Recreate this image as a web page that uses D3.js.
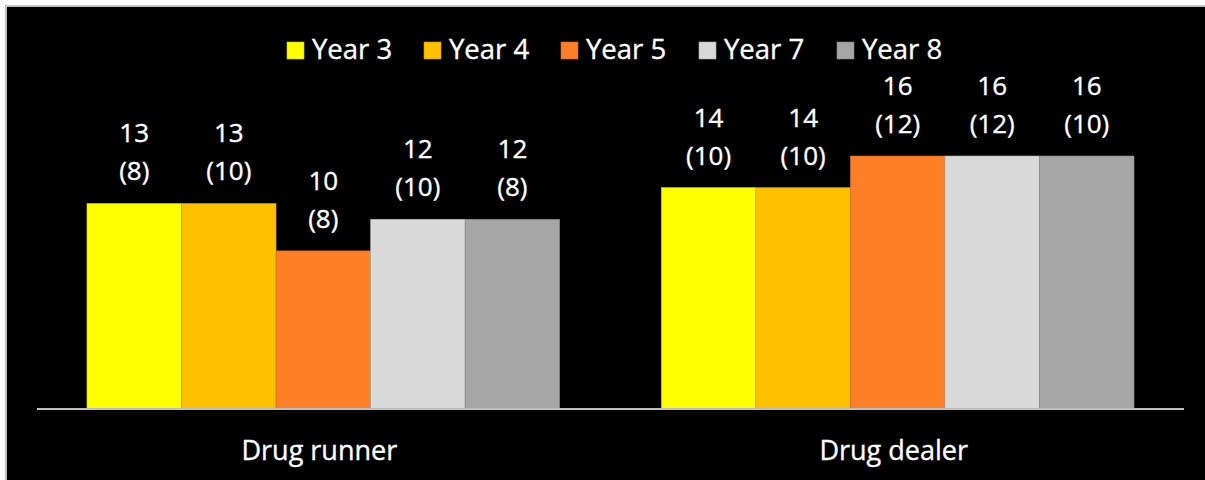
<!DOCTYPE html>
<html>
<head>
<meta charset="utf-8">
<script src="https://cdn.jsdelivr.net/npm/d3@7"></script>
<style>
  html, body { margin: 0; padding: 0; background: #ffffff; }
  svg { display: block; }
  text { font-family: "Open Sans", Lato, sans-serif; fill: #ffffff; stroke: #ffffff; stroke-width: 0.35px; }
</style>
</head>
<body>
<svg id="chart" width="1205" height="480"></svg>
<script>
const categories = ["Drug runner", "Drug dealer"];
const seriesNames = ["Year 3", "Year 4", "Year 5", "Year 7", "Year 8"];
const seriesColors = ["#FFFF00", "#FFC000", "#FF7F27", "#D9D9D9", "#A6A6A6"];
// values per series, one entry per category
const valuesYear3 = [13, 14];
const valuesYear4 = [13, 14];
const valuesYear5 = [10, 16];
const valuesYear7 = [12, 16];
const valuesYear8 = [12, 16];
const countsYear3 = [8, 10];
const countsYear4 = [10, 10];
const countsYear5 = [8, 12];
const countsYear7 = [10, 12];
const countsYear8 = [8, 10];

const values = [valuesYear3, valuesYear4, valuesYear5, valuesYear7, valuesYear8];
const counts = [countsYear3, countsYear4, countsYear5, countsYear7, countsYear8];

const svg = d3.select("#chart");

// frame
svg.append("rect")
  .attr("x", 6).attr("y", 6).attr("width", 1210).attr("height", 490)
  .attr("fill", "#000000").attr("stroke", "#c4c4c4").attr("stroke-width", 2);

const baseY = 409;
const y = d3.scaleLinear().domain([0, 16]).range([baseY, 156]);

const x0 = d3.scaleBand().domain(categories).range([37, 1184])
  .paddingInner(0.177).paddingOuter(0.087);
const x1 = d3.scaleBand().domain(seriesNames).range([0, x0.bandwidth()]).padding(0);

const data = [];
categories.forEach((c, ci) => {
  seriesNames.forEach((s, si) => {
    data.push({ cat: c, series: s, si, value: values[si][ci], count: counts[si][ci] });
  });
});

const g = svg.append("g");
g.selectAll("rect.bar").data(data).enter().append("rect")
  .attr("class", "bar")
  .attr("x", d => x0(d.cat) + x1(d.series))
  .attr("y", d => y(d.value))
  .attr("width", x1.bandwidth())
  .attr("height", d => baseY - y(d.value))
  .attr("fill", d => seriesColors[d.si])
  .attr("stroke", d => d3.color(seriesColors[d.si]).darker(0.6))
  .attr("stroke-width", 0.6);

// value labels
const cx = d => x0(d.cat) + x1(d.series) + x1.bandwidth() / 2;
const lbl = g.selectAll("text.val").data(data).enter().append("text")
  .attr("class", "val")
  .attr("text-anchor", "middle")
  .attr("font-size", 26);
lbl.append("tspan")
  .attr("x", cx)
  .attr("y", d => y(d.value) - 61)
  .text(d => d.value);
lbl.append("tspan")
  .attr("x", cx)
  .attr("y", d => y(d.value) - 23)
  .text(d => "(" + d.count + ")");

// baseline axis
const xAxis = d3.axisBottom(x0).tickSize(0).tickPadding(0);
const axisG = svg.append("g").attr("transform", `translate(0,${baseY})`).call(xAxis);
axisG.select(".domain").attr("d", "M37,0H1184").attr("stroke", "#bfbfbf").attr("stroke-width", 2);
axisG.selectAll(".tick text")
  .attr("font-size", 27)
  .attr("fill", "#ffffff")
  .attr("dy", null)
  .attr("dx", -4)
  .attr("y", 51)
  .style("font-family", "'Open Sans', Lato, sans-serif");

// legend
const legendX = [287, 424, 561, 699, 837];
const legend = svg.append("g");
seriesNames.forEach((s, i) => {
  legend.append("rect")
    .attr("x", legendX[i]).attr("y", 42).attr("width", 17).attr("height", 17)
    .attr("fill", seriesColors[i])
    .attr("stroke", d3.color(seriesColors[i]).darker(0.6))
    .attr("stroke-width", 0.6);
  legend.append("text")
    .attr("x", legendX[i] + 25).attr("y", 59)
    .attr("font-size", 27.5)
    .text(s);
});
</script>
</body>
</html>
